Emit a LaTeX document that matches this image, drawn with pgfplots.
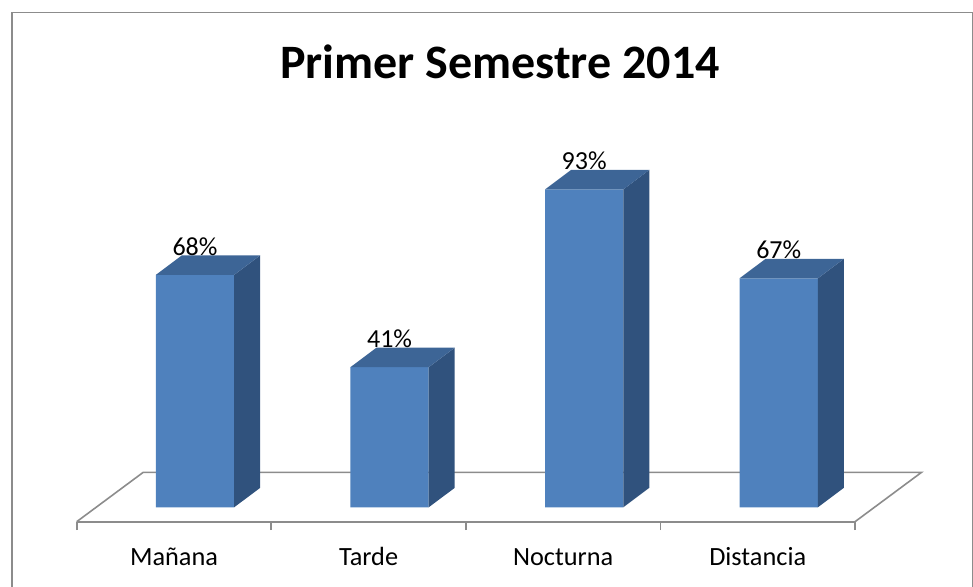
\documentclass[border=0pt]{standalone}
\usepackage{fontspec}
\setmainfont{Carlito}
\usepackage{pgfplots}
\pgfplotsset{compat=1.18}
\definecolor{frontc}{HTML}{4F81BD}
\definecolor{sidec}{HTML}{30527D}
\definecolor{topc}{HTML}{3D6596}
\definecolor{floorc}{HTML}{8C8C8C}
\begin{document}
\begin{tikzpicture}[x=1pt,y=1pt]
\useasboundingbox (0,0) rectangle (973,-586);
\draw[floorc, line width=1.6pt] (11.8,-600) -- (11.8,-12.6) -- (972.5,-12.6) -- (972.5,-600);
\node[anchor=base, font=\fontsize{48}{56}\selectfont\bfseries] at (500,-78.3) {Primer Semestre 2014};
\begin{axis}[
  at={(76.7pt,-521.7pt)}, anchor=south west,
  scale only axis, width=778.3pt, height=356.2pt,
  xmin=-0.608, xmax=3.392, ymin=-4.21, ymax=100,
  axis x line*=bottom, axis y line=none,
  clip=false,
  /pgf/number format/assume math mode=true,
  x axis line style={floorc, line width=1.6pt},
  xtick={-0.108,0.892,1.892,2.892},
  xticklabels={Mañana,Tarde,Nocturna,Distancia},
  major tick length=0pt,
  minor xtick={-0.608,0.392,1.392,2.392,3.392},
  minor tick length=8.5pt,
  tick align=outside,
  minor tick style={floorc, line width=1.6pt},
  xticklabel style={anchor=base, yshift=-43.3pt, font=\fontsize{26.3}{31}\selectfont},
]
% floor
\addplot[floorc, line width=1.6pt] coordinates {(-0.608,-4.21) (-0.266,10.24) (3.734,10.24) (3.392,-4.21)};
% front faces
\addplot[ybar, bar width=78.3pt, bar shift=0pt, fill=frontc, draw=none] coordinates {(0,68) (1,41) (2,93) (3,67)};
% side faces
\addplot[fill=sidec, draw=none] coordinates {(0.2012,0) (0.3348,5.7) (0.3348,73.7) (0.2012,68)} -- cycle;
\addplot[fill=sidec, draw=none] coordinates {(1.2012,0) (1.3348,5.7) (1.3348,46.7) (1.2012,41)} -- cycle;
\addplot[fill=sidec, draw=none] coordinates {(2.2012,0) (2.3348,5.7) (2.3348,98.7) (2.2012,93)} -- cycle;
\addplot[fill=sidec, draw=none] coordinates {(3.2012,0) (3.3348,5.7) (3.3348,72.7) (3.2012,67)} -- cycle;
% top faces
\addplot[fill=topc, draw=none] coordinates {(-0.2012,68) (0.2012,68) (0.3348,73.7) (-0.0676,73.7)} -- cycle;
\addplot[fill=topc, draw=none] coordinates {(0.7988,41) (1.2012,41) (1.3348,46.7) (0.9324,46.7)} -- cycle;
\addplot[fill=topc, draw=none] coordinates {(1.7988,93) (2.2012,93) (2.3348,98.7) (1.9324,98.7)} -- cycle;
\addplot[fill=topc, draw=none] coordinates {(2.7988,67) (3.2012,67) (3.3348,72.7) (2.9324,72.7)} -- cycle;
% labels
\addplot[draw=none, mark=none, point meta=y,
  nodes near coords={\pgfmathprintnumber{\pgfplotspointmeta}\%},
  every node near coord/.append style={anchor=south, inner ysep=0pt, text depth=0pt, yshift=19.5pt, font=\fontsize{26}{31}\selectfont, text=black}]
  coordinates {(0,68) (1,41) (2,93) (3,67)};
\end{axis}
\end{tikzpicture}
\end{document}
